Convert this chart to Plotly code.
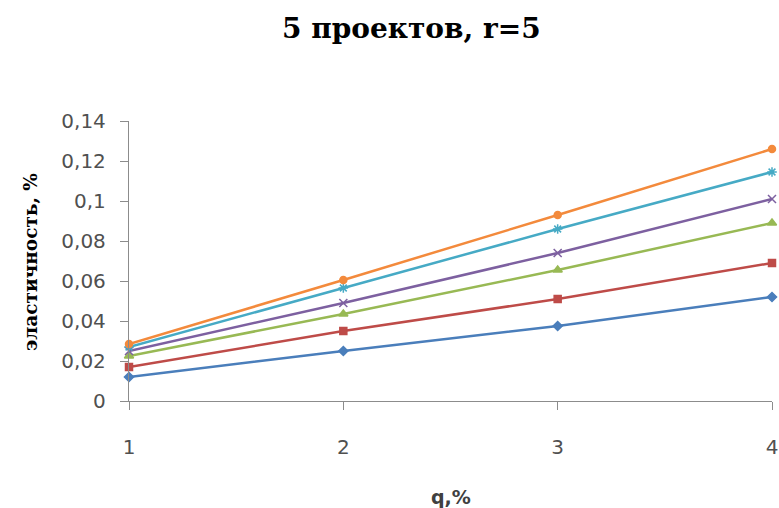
import plotly.graph_objects as go

q = [1, 2, 3, 4]
s1 = [0.012, 0.025, 0.0375, 0.052]
s2 = [0.017, 0.035, 0.051, 0.069]
s3 = [0.0225, 0.0435, 0.0655, 0.089]
s4 = [0.025, 0.049, 0.074, 0.101]
s5 = [0.027, 0.0565, 0.086, 0.1145]
s6 = [0.0285, 0.0605, 0.093, 0.126]

series = [s1, s2, s3, s4, s5, s6]
colors = ["#4A7EBB", "#BE4B48", "#98B954", "#7D60A0", "#46AAC5", "#F38A3C"]
symbols = ["diamond", "square", "triangle-up", "x-thin-open", "asterisk-open", "circle"]
sizes = [7, 7, 8, 8, 8, 7]

y_tickvals = [0, 0.02, 0.04, 0.06, 0.08, 0.1, 0.12, 0.14]
y_ticktext = ["0", "0,02", "0,04", "0,06", "0,08", "0,1", "0,12", "0,14"]
x_tickvals = [1, 2, 3, 4]
x_ticktext = ["1", "2", "3", "4"]

title_text = "<b>5 проектов, r=5</b>"
ytitle_text = "<b>эластичность, %</b>"
xtitle_text = "<b>q,%</b>"

serif = "DejaVu Serif"

fig = go.Figure()
for ys, c, sym, sz in zip(series, colors, symbols, sizes):
    fig.add_trace(go.Scatter(
        x=q, y=ys, mode="lines+markers",
        line=dict(color=c, width=2.5),
        marker=dict(symbol=sym, size=sz, color=c, line=dict(color=c, width=1.5)),
        cliponaxis=False, showlegend=False,
    ))

axis_font = dict(family="DejaVu Sans", size=20, color="#505050")
fig.update_layout(
    width=779, height=508,
    margin=dict(l=129, r=7, t=121, b=107, autoexpand=False),
    paper_bgcolor="white", plot_bgcolor="white",
    showlegend=False,
    xaxis=dict(
        range=[1, 4], tickvals=x_tickvals, ticktext=x_ticktext, automargin=False,
        showgrid=False, zeroline=False, showline=True, linecolor="#8C8C8C", linewidth=1.3,
        ticks="outside", ticklen=8, tickcolor="#8C8C8C", tickwidth=1.3,
        tickfont=axis_font, ticklabelstandoff=20,
    ),
    yaxis=dict(
        range=[0, 0.14], tickvals=y_tickvals, ticktext=y_ticktext, automargin=False,
        showgrid=False, zeroline=False, showline=True, linecolor="#8C8C8C", linewidth=1.3,
        ticks="outside", ticklen=8, tickcolor="#8C8C8C", tickwidth=1.3,
        tickfont=axis_font, ticklabelstandoff=10,
    ),
    annotations=[
        dict(text=title_text, xref="paper", yref="paper", x=(411 - 129) / 643, y=1 + (121 - 28) / 280,
             xanchor="center", yanchor="middle", showarrow=False,
             font=dict(family=serif, size=28, color="black")),
        dict(text=ytitle_text, xref="paper", yref="paper", x=(30 - 129) / 643, y=(401 - 262) / 280,
             xanchor="center", yanchor="middle", showarrow=False, textangle=-90,
             font=dict(family=serif, size=18.5, color="black")),
        dict(text=xtitle_text, xref="paper", yref="paper", x=(451 - 129) / 643, y=-(497 - 401) / 280,
             xanchor="center", yanchor="middle", showarrow=False,
             font=dict(family="DejaVu Sans", size=19, color="#404040")),
    ],
)

fig.write_html("out.html")
